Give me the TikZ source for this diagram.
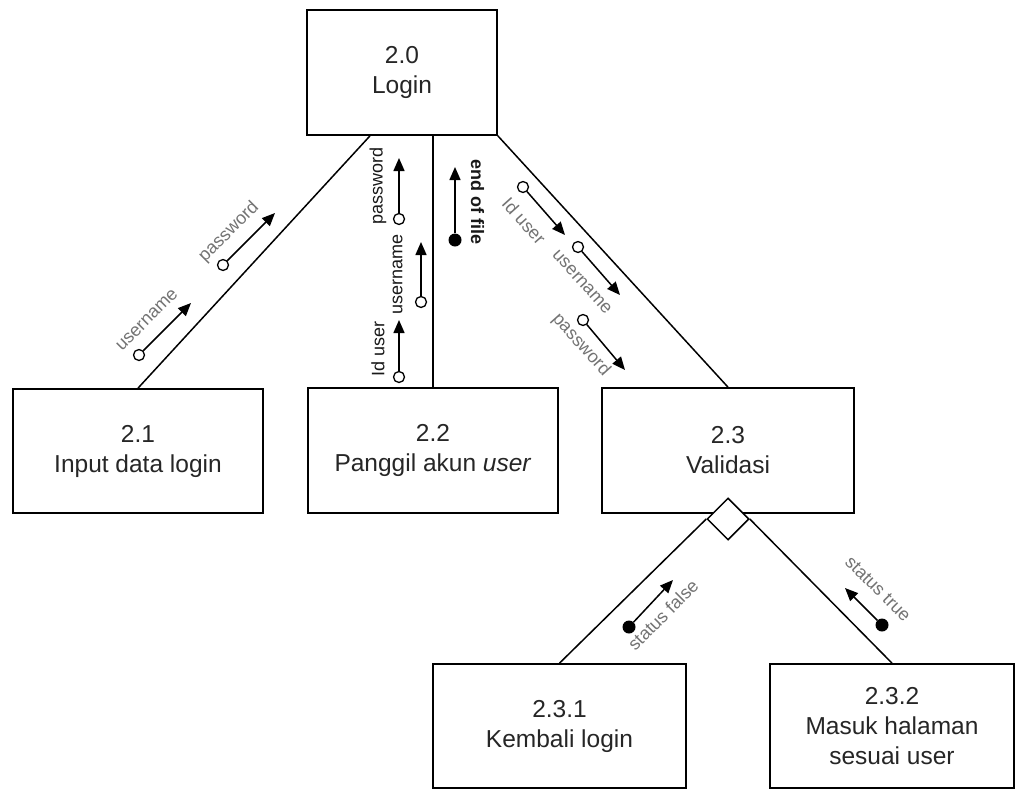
\documentclass[tikz,border=0pt]{standalone}
\usepackage{fontspec}
\setmainfont{Liberation Sans}
\usetikzlibrary{arrows.meta,shapes.geometric}
\begin{document}
\begin{tikzpicture}[x=1pt,y=-1pt,
  proc/.style={draw,line width=1.7pt,fill=white,minimum width=250pt,minimum height=124pt,
    inner sep=0pt,align=center,font=\fontsize{24.5}{30}\selectfont,text=black!85},
  link/.style={line width=1.5pt},
  flow/.style={line width=1.5pt,-{Triangle[length=13pt,width=11pt]}},
  opendot/.style={circle,draw,line width=1.3pt,fill=white,minimum size=11pt,inner sep=0pt},
  fulldot/.style={circle,fill=black,minimum size=13pt,inner sep=0pt},
  lbl/.style={font=\fontsize{18}{18}\selectfont,text=black!55,inner sep=0pt},
  lbldark/.style={lbl,text=black!90},
]
\useasboundingbox (0,0) rectangle (1017,790);

% processes
\node[proc,minimum width=190pt,minimum height=125pt] (n20) at (402,72.5) {2.0\\Login};
\node[proc] (n21) at (138,451) {2.1\\Input data login};
\node[proc,minimum height=125pt] (n22) at (433,450.5) {2.2\\Panggil akun \textit{user}};
\node[proc,minimum width=252pt,minimum height=125pt] (n23) at (728,450.5) {2.3\\Validasi};
\node[proc,minimum width=253pt] (n231) at (559.5,726) {2.3.1\\Kembali login};
\node[proc,minimum width=244pt] (n232) at (892,726) {2.3.2\\Masuk halaman\\sesuai user};
\node[diamond,draw,line width=1.5pt,fill=white,minimum size=42pt,inner sep=0pt] (dia) at (728,519) {};

% structure lines
\draw[link] ([xshift=-32pt]n20.south) -- (n21.north);
\draw[link] (n22.north) -- (n22.north |- n20.south);
\draw[link] (n20.south east) -- (n23.north);
\draw[link] (dia.west) -- (n231.north);
\draw[link] (dia.east) -- (n232.north);

% data couples: 2.0 -- 2.1
\node[opendot] (a1) at (139,355) {};
\coordinate (a1t) at (191,303);
\draw[flow] (a1) -- (a1t);
\node[lbl,rotate=45] (a1l) at (147,320) {username};
\node[opendot] (a2) at (223,265) {};
\coordinate (a2t) at (275,213);
\draw[flow] (a2) -- (a2t);
\node[lbl,rotate=45] (a2l) at (229,232) {password};

% data couples: 2.0 -- 2.2
\node[opendot] (b1) at (399,219) {};
\coordinate (b1t) at (399,158);
\draw[flow] (b1) -- (b1t);
\node[lbldark,rotate=90] (b1l) at (378,186) {password};
\node[opendot] (b2) at (421,302) {};
\coordinate (b2t) at (421,242);
\draw[flow] (b2) -- (b2t);
\node[lbldark,rotate=90] (b2l) at (397.5,274) {username};
\node[opendot] (b3) at (399,377) {};
\coordinate (b3t) at (399,320);
\draw[flow] (b3) -- (b3t);
\node[lbldark,rotate=90] (b3l) at (378,349) {Id user};
\node[fulldot] (b4) at (455,240) {};
\coordinate (b4t) at (455,167);
\draw[flow] (b4) -- (b4t);
\node[lbldark,rotate=-90,font=\fontsize{18}{18}\selectfont\bfseries] (b4l) at (477.5,202) {end of file};

% data couples: 2.0 -- 2.3
\node[opendot] (c1) at (523,187) {};
\coordinate (c1t) at (565,235);
\draw[flow] (c1) -- (c1t);
\node[lbl,rotate=-48] (c1l) at (524,221) {Id user};
\node[opendot] (c2) at (578,247) {};
\coordinate (c2t) at (620,295);
\draw[flow] (c2) -- (c2t);
\node[lbl,rotate=-48] (c2l) at (582,282) {username};
\node[opendot] (c3) at (583,320) {};
\coordinate (c3t) at (625,370);
\draw[flow] (c3) -- (c3t);
\node[lbl,rotate=-48] (c3l) at (581,345) {password};

% control flags from 2.3.x
\node[fulldot] (d1) at (629,627) {};
\coordinate (d1t) at (673,580);
\draw[flow] (d1) -- (d1t);
\node[lbl,rotate=45] (d1l) at (663,615) {status false};
\node[fulldot] (d2) at (882,625) {};
\coordinate (d2t) at (845,588);
\draw[flow] (d2) -- (d2t);
\node[lbl,rotate=-45] (d2l) at (878,589) {status true};
\end{tikzpicture}
\end{document}
